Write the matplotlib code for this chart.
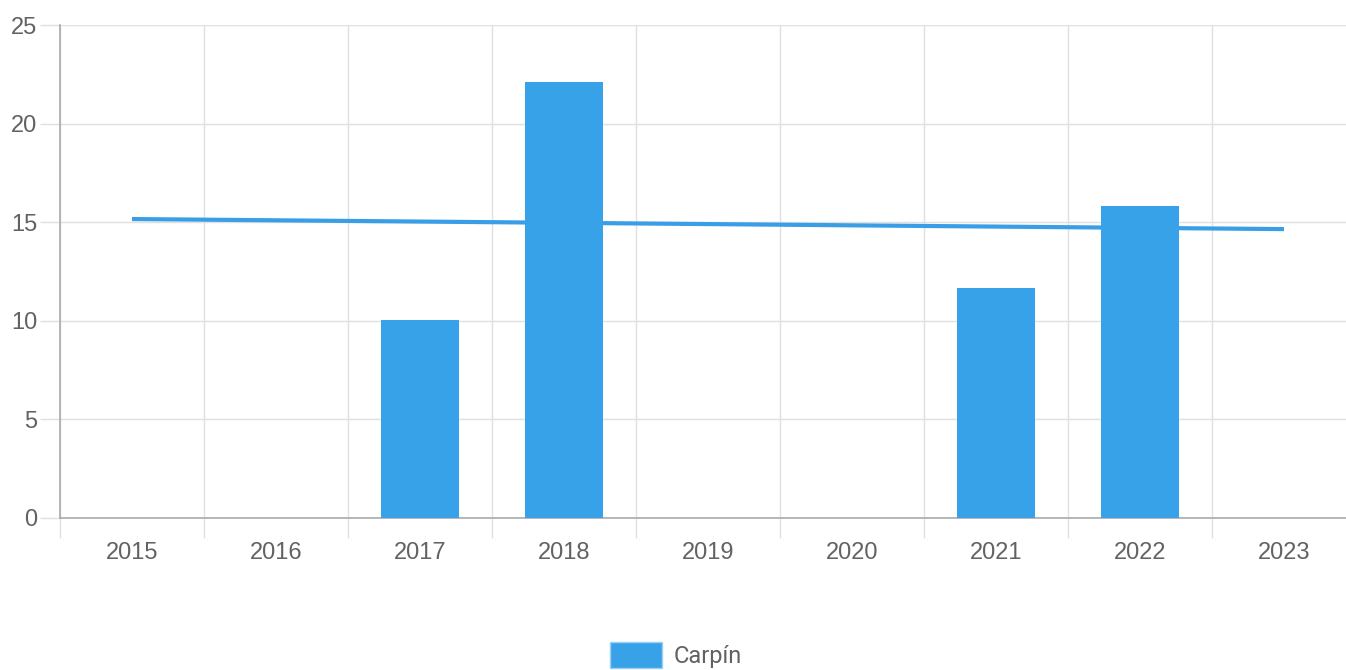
import matplotlib.pyplot as plt
from matplotlib.patches import Patch
from matplotlib.ticker import FixedLocator

years = ["2015", "2016", "2017", "2018", "2019", "2020", "2021", "2022", "2023"]
values = [0, 0, 10.05, 22.1, 0, 0, 11.65, 15.8, 0]
trend_pos = [0, 8]
trend_values = [15.16, 14.65]

BLUE = "#38a2e8"
GRID = "#e0e0e0"
TEXT = "#626262"

plt.rcParams["font.family"] = ["Liberation Sans", "DejaVu Sans"]

W, H = 1346, 670
fig = plt.figure(figsize=(W / 100, H / 100), dpi=100)
left, right, top, bottom = 60, 1356, 25, 518
ax = fig.add_axes([left / W, (H - bottom) / H, (right - left) / W, (bottom - top) / H])

x = list(range(len(years)))
ax.plot(trend_pos, trend_values, color="#3a9ee6", lw=3, zorder=2, solid_capstyle="butt")
ax.bar(x, values, width=0.54, color=BLUE, zorder=3)

ax.set_xlim(-0.5, len(years) - 0.5)
ax.set_ylim(0, 25)
ax.set_yticks([0, 5, 10, 15, 20, 25])
ax.set_xticks(x)
ax.set_xticklabels(years)
ax.xaxis.set_minor_locator(FixedLocator([i - 0.5 for i in range(len(years) + 1)]))

ax.grid(axis="y", color=GRID, lw=1, zorder=0)
ax.grid(axis="x", which="minor", color=GRID, lw=1, zorder=0)
ax.tick_params(axis="x", which="major", length=0, pad=17, labelsize=17, labelcolor=TEXT)
ax.tick_params(axis="x", which="minor", length=14.4, color=GRID, width=1)
ax.tick_params(axis="y", length=14.4, color=GRID, width=1, pad=2, labelsize=17, labelcolor=TEXT)

for s in ["top", "right"]:
    ax.spines[s].set_visible(False)
for s in ["left", "bottom"]:
    ax.spines[s].set_color("#aaaaaa")
    ax.spines[s].set_linewidth(1.2)

fig.legend(handles=[Patch(facecolor=BLUE, edgecolor="#9ccff2", label="Carpín")],
           loc="center", bbox_to_anchor=(0.502, 1 - 655 / H), frameon=False,
           handlelength=2.2, handleheight=1.3, handletextpad=0.5,
           prop={"family": ["Roboto", "DejaVu Sans"], "size": 17}, labelcolor=TEXT)

fig.savefig("out.png", dpi=100)
